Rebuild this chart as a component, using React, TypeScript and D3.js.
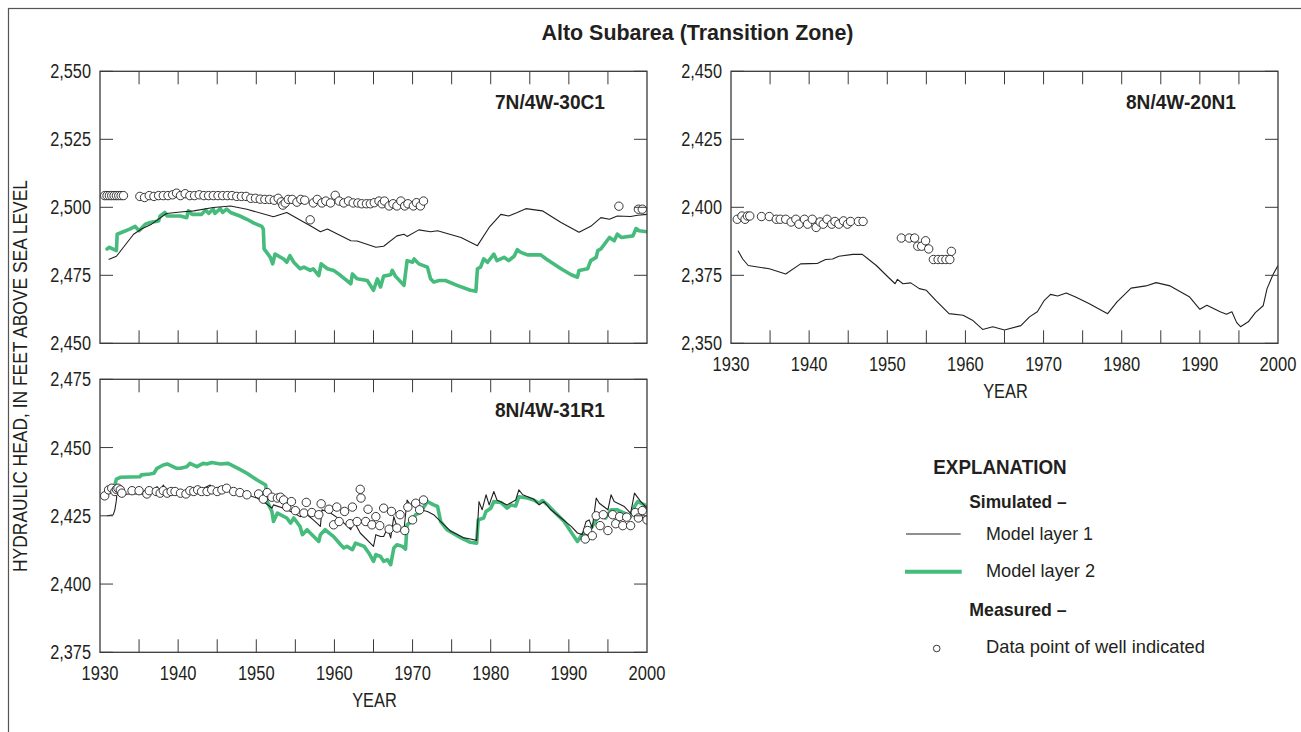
import React from "react";
import * as d3 from "d3";

// ---------- DATA ----------
const yearTicks = [1930, 1940, 1950, 1960, 1970, 1980, 1990, 2000];
const yTicksTL = [2450, 2475, 2500, 2525, 2550];
const yTicksTR = [2350, 2375, 2400, 2425, 2450];
const yTicksBL = [2375, 2400, 2425, 2450, 2475];

// 7N/4W-30C1
const w30c1Layer1: [number, number][] = [
  [1931.1, 2480.8], [1932.1, 2482.0], [1933.0, 2485.3], [1934.3, 2490.1], [1935.3, 2492.0], [1936.6, 2493.8],
  [1938.5, 2497.7], [1940.3, 2498.3], [1942.0, 2498.7], [1944.5, 2499.9], [1946.7, 2500.5], [1948.8, 2499.3],
  [1952.2, 2496.5], [1953.9, 2498.1], [1957.3, 2492.6], [1958.2, 2491.0], [1959.1, 2492.0], [1962.1, 2487.7],
  [1962.9, 2487.6], [1965.3, 2485.3], [1966.3, 2485.7], [1968.0, 2489.5], [1968.9, 2490.1], [1969.3, 2489.3],
  [1970.8, 2491.7], [1972.3, 2491.0], [1973.2, 2491.4], [1976.2, 2488.9], [1978.3, 2485.9], [1979.8, 2492.6],
  [1981.3, 2497.4], [1982.3, 2496.8], [1983.4, 2498.1], [1984.5, 2499.5], [1986.6, 2498.7], [1989.0, 2494.4],
  [1991.3, 2490.8], [1992.8, 2493.0], [1994.1, 2496.2], [1995.2, 2495.6], [1996.2, 2496.8], [1997.9, 2496.6],
  [1998.8, 2497.1], [2000.0, 2497.4],
];
const w30c1Layer2: [number, number][] = [
  [1930.9, 2484.7], [1931.2, 2485.3], [1932.1, 2484.1], [1932.2, 2490.1], [1933.8, 2492.0], [1934.5, 2493.0],
  [1935.0, 2491.4], [1935.8, 2493.8], [1936.4, 2494.4], [1937.5, 2495.0], [1937.7, 2496.8], [1938.3, 2498.1],
  [1938.6, 2496.8], [1940.3, 2496.8], [1941.1, 2496.2], [1941.3, 2498.7], [1941.8, 2497.4], [1943.0, 2497.4],
  [1943.5, 2499.0], [1943.9, 2497.8], [1944.5, 2499.3], [1944.7, 2497.8], [1945.4, 2499.5], [1945.7, 2498.1],
  [1946.2, 2499.3], [1946.7, 2498.1], [1947.9, 2496.8], [1948.8, 2495.6], [1949.7, 2494.2], [1950.7, 2493.0],
  [1950.9, 2492.0], [1951.0, 2484.7], [1951.8, 2481.6], [1952.1, 2479.2], [1952.4, 2482.8], [1953.5, 2481.0],
  [1953.9, 2479.8], [1954.3, 2482.2], [1954.8, 2479.8], [1955.6, 2477.4], [1956.1, 2478.0], [1956.9, 2476.8],
  [1957.3, 2477.4], [1958.0, 2474.9], [1958.3, 2479.2], [1959.1, 2477.4], [1959.9, 2476.8], [1960.8, 2474.9],
  [1962.1, 2471.9], [1962.3, 2475.5], [1962.9, 2473.7], [1964.2, 2473.1], [1965.0, 2469.5], [1965.5, 2473.7],
  [1965.9, 2470.7], [1966.3, 2474.7], [1967.2, 2475.2], [1967.4, 2476.8], [1967.8, 2474.7], [1968.9, 2471.3],
  [1969.3, 2480.4], [1970.0, 2479.8], [1970.2, 2481.0], [1970.8, 2479.2], [1971.9, 2478.0], [1972.3, 2473.7],
  [1972.7, 2472.5], [1973.4, 2473.1], [1974.2, 2473.1], [1975.7, 2471.3], [1977.4, 2469.5], [1978.1, 2469.1],
  [1978.3, 2477.4], [1978.7, 2478.0], [1979.1, 2481.0], [1979.6, 2479.8], [1980.4, 2482.8], [1980.8, 2480.4],
  [1981.7, 2481.6], [1982.3, 2480.4], [1983.0, 2482.0], [1983.4, 2484.4], [1983.8, 2483.5], [1984.7, 2482.5],
  [1986.4, 2482.5], [1987.1, 2481.0], [1989.0, 2477.4], [1990.3, 2475.2], [1991.1, 2474.3], [1991.3, 2476.8],
  [1992.4, 2477.4], [1992.8, 2480.4], [1993.5, 2481.6], [1993.7, 2484.1], [1994.1, 2484.7], [1995.2, 2488.9],
  [1995.8, 2487.7], [1996.2, 2490.1], [1996.7, 2488.9], [1998.2, 2489.5], [1998.6, 2492.2], [1999.0, 2491.4],
  [2000.0, 2491.0],
];
const w30c1Measured: [number, number][] = [
  [1930.6, 2504.3], [1930.9, 2504.3], [1931.2, 2504.3], [1931.5, 2504.3], [1931.8, 2504.3], [1932.1, 2504.3],
  [1932.4, 2504.3], [1932.7, 2504.3], [1933.0, 2504.3],
  [1935.1, 2504.0], [1935.7, 2503.6], [1936.3, 2504.3], [1936.9, 2504.0], [1937.5, 2504.3], [1938.1, 2504.3],
  [1938.7, 2504.3], [1939.3, 2504.6], [1939.8, 2505.2], [1940.3, 2504.3], [1940.9, 2505.0], [1941.5, 2504.3],
  [1942.1, 2504.3], [1942.7, 2504.6], [1943.3, 2504.3], [1943.9, 2504.3], [1944.5, 2504.3], [1945.1, 2504.3],
  [1945.7, 2504.3], [1946.3, 2504.3], [1946.9, 2504.3], [1947.5, 2504.0], [1948.1, 2504.0], [1948.7, 2504.0],
  [1949.3, 2503.3], [1949.9, 2503.3], [1950.5, 2503.0], [1951.1, 2502.9], [1951.7, 2502.9], [1952.3, 2502.6],
  [1952.8, 2503.3], [1953.2, 2502.0], [1953.4, 2500.8], [1953.7, 2501.6], [1954.1, 2502.9], [1954.6, 2502.9],
  [1955.2, 2501.9], [1955.7, 2502.9], [1956.2, 2502.6], [1956.9, 2495.4], [1957.3, 2501.6], [1957.8, 2502.9],
  [1958.4, 2501.6], [1958.9, 2502.3], [1959.5, 2501.6], [1960.1, 2504.4], [1960.6, 2502.3], [1961.2, 2501.6],
  [1961.8, 2502.3], [1962.4, 2501.6], [1963.0, 2501.6], [1963.5, 2501.3], [1964.1, 2501.3], [1964.6, 2501.3],
  [1965.1, 2501.7], [1965.7, 2502.3], [1966.1, 2501.3], [1966.4, 2502.3], [1967.0, 2500.5], [1967.5, 2501.3],
  [1968.0, 2500.5], [1968.5, 2502.3], [1969.0, 2500.5], [1969.4, 2501.3], [1970.1, 2500.5], [1970.5, 2501.7],
  [1971.0, 2500.5], [1971.4, 2502.3],
  [1996.4, 2500.4], [1998.9, 2499.3], [1999.4, 2499.3],
];

// 8N/4W-20N1
const w20n1Layer1: [number, number][] = [
  [1930.9, 2384.0], [1931.5, 2381.0], [1932.2, 2378.6], [1934.9, 2377.4], [1937.0, 2375.5], [1938.9, 2379.2],
  [1941.1, 2379.4], [1942.1, 2380.8], [1943.0, 2381.0], [1943.8, 2382.0], [1945.6, 2382.7], [1946.8, 2382.7],
  [1948.6, 2378.6], [1949.8, 2375.2], [1951.0, 2371.9], [1951.3, 2373.5], [1952.0, 2371.9], [1953.0, 2372.2],
  [1954.1, 2370.1], [1955.0, 2369.5], [1956.2, 2365.8], [1957.9, 2360.9], [1959.7, 2360.3], [1960.9, 2358.5],
  [1962.2, 2355.1], [1963.5, 2356.1], [1965.0, 2354.9], [1967.1, 2356.5], [1968.2, 2359.7], [1969.2, 2361.6],
  [1970.1, 2365.8], [1970.9, 2368.0], [1971.8, 2367.4], [1972.9, 2368.5], [1974.1, 2367.0], [1975.8, 2364.6],
  [1978.2, 2360.9], [1979.4, 2365.2], [1981.2, 2370.3], [1983.1, 2371.1], [1984.4, 2372.3], [1986.2, 2371.1],
  [1988.7, 2367.0], [1990.0, 2362.5], [1990.9, 2364.0], [1992.6, 2361.6], [1993.4, 2360.7], [1994.1, 2361.6],
  [1994.7, 2357.7], [1995.2, 2356.1], [1996.2, 2357.9], [1997.1, 2361.3], [1998.1, 2363.8], [1998.6, 2370.1],
  [1999.4, 2375.5], [2000.0, 2378.6],
];
const w20n1Measured: [number, number][] = [
  [1930.8, 2395.6], [1931.4, 2396.8], [1931.8, 2395.6], [1932.1, 2396.8], [1932.4, 2396.8], [1933.9, 2396.6],
  [1934.9, 2396.6], [1935.8, 2395.6], [1936.3, 2395.6], [1937.0, 2395.6], [1937.7, 2394.6], [1938.3, 2395.6],
  [1938.7, 2393.8], [1939.4, 2395.6], [1939.8, 2393.8], [1940.4, 2395.6], [1940.9, 2392.6], [1941.4, 2394.6],
  [1941.8, 2393.8], [1942.3, 2395.6], [1942.9, 2393.8], [1943.3, 2394.8], [1943.8, 2393.8], [1944.4, 2395.0],
  [1944.9, 2393.8], [1945.3, 2394.8], [1946.3, 2394.8], [1946.9, 2394.8],
  [1951.8, 2388.7], [1952.8, 2388.7], [1953.5, 2388.7], [1953.9, 2385.7], [1954.4, 2385.7], [1954.9, 2387.7],
  [1955.3, 2384.7], [1955.9, 2380.8], [1956.5, 2380.8], [1957.0, 2380.8], [1957.5, 2380.8], [1958.0, 2380.8],
  [1958.2, 2383.8],
];

// 8N/4W-31R1
const w31r1Layer1: [number, number][] = [
  [1930.9, 2425.0], [1931.7, 2425.4], [1931.9, 2427.2], [1932.1, 2430.8], [1932.2, 2435.1], [1932.6, 2432.7],
  [1933.8, 2433.0], [1936.0, 2433.0], [1937.3, 2435.7], [1937.7, 2433.9], [1938.1, 2436.3], [1938.6, 2433.9],
  [1940.3, 2433.3], [1941.5, 2435.1], [1942.4, 2433.9], [1944.1, 2436.3], [1944.5, 2434.5], [1945.4, 2435.7],
  [1946.2, 2434.5], [1947.5, 2433.9], [1948.8, 2432.7], [1950.1, 2431.5], [1951.2, 2429.6], [1952.0, 2427.8],
  [1952.2, 2429.0], [1953.5, 2427.8], [1954.8, 2426.0], [1955.6, 2424.7], [1956.5, 2425.4], [1957.3, 2423.5],
  [1958.2, 2421.1], [1958.4, 2427.2], [1959.5, 2426.0], [1960.8, 2423.5], [1962.1, 2419.9], [1962.4, 2423.5],
  [1963.3, 2418.7], [1965.0, 2413.8], [1965.3, 2418.1], [1965.9, 2417.4], [1966.3, 2417.4], [1966.8, 2420.5],
  [1967.2, 2416.9], [1967.6, 2424.7], [1968.0, 2421.1], [1968.9, 2419.9], [1969.3, 2430.8], [1969.7, 2429.0],
  [1970.2, 2430.2], [1971.0, 2427.2], [1971.9, 2426.6], [1972.7, 2425.4], [1973.6, 2422.9], [1974.9, 2419.3],
  [1976.6, 2416.9], [1977.4, 2416.5], [1978.2, 2416.0], [1978.5, 2430.2], [1978.9, 2427.2], [1979.4, 2432.7],
  [1979.8, 2429.0], [1980.4, 2433.9], [1980.8, 2430.8], [1982.1, 2429.0], [1983.2, 2430.8], [1983.6, 2434.5],
  [1984.1, 2432.7], [1985.5, 2431.1], [1986.2, 2429.0], [1986.8, 2430.2], [1987.7, 2427.2], [1989.0, 2424.2],
  [1990.3, 2421.1], [1991.1, 2418.7], [1991.7, 2418.1], [1992.2, 2422.9], [1992.6, 2423.5], [1993.0, 2420.5],
  [1993.5, 2431.5], [1993.9, 2429.6], [1995.0, 2427.2], [1995.4, 2432.7], [1995.8, 2430.2], [1997.1, 2428.4],
  [1997.9, 2425.9], [1998.4, 2433.3], [1999.2, 2430.2], [2000.0, 2427.8],
];
const w31r1Layer2: [number, number][] = [
  [1931.9, 2436.3], [1932.1, 2438.4], [1932.6, 2439.1], [1935.1, 2439.3], [1935.3, 2440.0], [1936.4, 2440.3],
  [1936.9, 2440.6], [1937.3, 2442.4], [1938.1, 2443.6], [1938.6, 2444.0], [1939.8, 2442.4], [1940.3, 2442.4],
  [1941.1, 2443.0], [1941.5, 2444.2], [1942.4, 2443.0], [1943.2, 2444.2], [1943.7, 2444.0], [1944.3, 2444.5],
  [1945.4, 2444.0], [1946.4, 2444.2], [1947.9, 2442.0], [1948.8, 2440.6], [1950.1, 2438.1], [1951.2, 2436.3],
  [1951.4, 2430.2], [1952.0, 2426.6], [1952.2, 2422.9], [1952.7, 2426.0], [1953.9, 2424.2], [1954.4, 2422.3],
  [1954.8, 2424.2], [1955.6, 2421.1], [1955.9, 2418.1], [1956.5, 2419.9], [1956.9, 2418.7], [1958.0, 2415.6],
  [1958.2, 2418.1], [1958.8, 2419.9], [1959.9, 2417.4], [1960.8, 2414.4], [1961.2, 2413.2], [1961.6, 2413.8],
  [1962.3, 2412.6], [1962.7, 2415.0], [1963.8, 2413.8], [1964.4, 2411.4], [1965.0, 2408.3], [1965.3, 2410.8],
  [1965.9, 2410.1], [1966.3, 2408.3], [1966.8, 2408.9], [1967.2, 2407.1], [1967.6, 2413.2], [1968.0, 2414.4],
  [1968.7, 2413.8], [1969.1, 2412.8], [1969.3, 2421.7], [1969.9, 2422.9], [1970.4, 2425.4], [1971.0, 2426.2],
  [1971.9, 2430.2], [1972.7, 2429.0], [1973.2, 2428.4], [1973.6, 2422.9], [1974.4, 2419.9], [1976.2, 2416.9],
  [1977.4, 2415.3], [1978.2, 2415.0], [1978.4, 2423.5], [1979.1, 2424.2], [1979.4, 2426.6], [1980.0, 2427.8],
  [1980.4, 2430.2], [1981.3, 2429.9], [1982.1, 2427.8], [1982.6, 2429.0], [1983.2, 2428.6], [1983.6, 2432.0],
  [1984.7, 2431.5], [1985.5, 2430.8], [1986.2, 2429.6], [1986.6, 2430.6], [1987.3, 2429.0], [1988.1, 2426.6],
  [1989.4, 2422.9], [1990.5, 2418.1], [1991.1, 2415.6], [1991.7, 2418.1], [1992.4, 2419.3], [1993.0, 2421.1],
  [1993.5, 2423.5], [1994.1, 2425.4], [1994.7, 2424.2], [1995.4, 2427.2], [1996.2, 2427.2], [1997.1, 2426.0],
  [1997.9, 2424.7], [1998.4, 2428.4], [1998.8, 2430.2], [1999.7, 2429.0], [2000.0, 2427.4],
];
const w31r1Measured: [number, number][] = [
  [1930.6, 2432.3], [1931.1, 2434.5], [1931.5, 2435.1], [1931.9, 2433.9], [1932.1, 2434.7], [1932.3, 2435.1],
  [1932.6, 2434.5], [1932.8, 2433.3], [1934.1, 2434.2], [1935.0, 2434.2], [1936.0, 2433.0], [1936.3, 2434.2],
  [1937.2, 2433.9], [1937.7, 2433.3], [1938.1, 2434.2], [1938.6, 2433.3], [1939.1, 2433.9], [1939.6, 2433.9],
  [1940.3, 2433.3], [1941.0, 2433.0], [1941.5, 2434.2], [1942.0, 2433.9], [1942.5, 2434.5], [1943.0, 2433.9],
  [1943.7, 2433.9], [1944.3, 2434.5], [1945.0, 2433.9], [1945.6, 2434.5], [1946.2, 2435.1], [1947.1, 2433.9],
  [1947.9, 2433.5], [1948.8, 2432.7], [1950.3, 2433.0], [1950.9, 2431.1], [1951.4, 2433.5], [1952.0, 2431.8],
  [1952.7, 2431.5], [1953.1, 2431.8], [1953.5, 2430.8], [1953.9, 2428.2], [1954.5, 2430.2], [1955.0, 2426.9],
  [1956.1, 2426.0], [1956.4, 2429.9], [1957.1, 2426.2], [1958.0, 2425.4], [1958.3, 2429.4], [1959.3, 2427.4],
  [1959.9, 2421.7], [1960.3, 2428.2], [1960.6, 2422.9], [1961.3, 2426.6], [1962.0, 2422.1], [1962.3, 2428.2],
  [1962.9, 2422.9], [1963.3, 2434.7], [1963.4, 2431.5], [1964.0, 2422.9], [1964.3, 2427.4], [1964.8, 2421.7],
  [1965.3, 2424.7], [1965.8, 2421.4], [1966.3, 2427.8], [1967.0, 2420.1], [1967.3, 2426.6], [1968.0, 2420.5],
  [1968.4, 2425.4], [1969.0, 2419.6], [1969.4, 2428.2], [1970.0, 2423.5], [1970.4, 2429.6], [1970.9, 2427.2],
  [1971.4, 2430.8],
  [1992.1, 2416.5], [1992.4, 2419.6], [1993.0, 2417.7], [1993.5, 2425.0], [1994.0, 2421.4], [1994.4, 2425.4],
  [1995.0, 2419.6], [1995.6, 2425.4], [1996.0, 2422.1], [1996.5, 2424.7], [1996.9, 2421.4], [1997.4, 2424.5],
  [1997.9, 2421.4], [1998.5, 2426.2], [1998.9, 2424.2], [1999.4, 2426.9], [2000.0, 2423.5],
];

// ---------- STYLE ----------
const FONT = "'Liberation Sans Narrow', 'Arial Narrow', 'Liberation Sans', Arial, sans-serif";
const INK = "#231f20";
const AXIS = "#3a3a3a";
const GREEN = "#45bb7c";
const TICK = 13;

type Pt = [number, number];

interface PanelProps {
  id: string;
  x: d3.ScaleLinear<number, number>;
  y: d3.ScaleLinear<number, number>;
  yTicks: number[];
  label: string;
  l1?: Pt[];
  l2?: Pt[];
  meas?: Pt[];
  showXLabels: boolean;
}

const fmt = d3.format(",");
// approximate condensed width of a numeric label
const numWidth = (s: string) => s.split("").reduce((w, c) => w + (c === "," ? 4 : 9.2), 0);

function Panel({ id, x, y, yTicks, label, l1, l2, meas, showXLabels }: PanelProps) {
  const [x0, x1] = x.range();
  const [yb, yt] = y.range();
  const minor = d3.range(1935, 2000, 5);
  const line = d3
    .line<Pt>()
    .x((d) => x(d[0]))
    .y((d) => y(d[1]));
  return (
    <g>
      <defs>
        <clipPath id={id}>
          <rect x={x0} y={yt} width={x1 - x0} height={yb - yt} />
        </clipPath>
      </defs>
      <g clipPath={`url(#${id})`}>
        {l2 && (
          <path d={line(l2) || ""} fill="none" stroke={GREEN} strokeWidth={3.6} strokeLinejoin="round" strokeLinecap="round" />
        )}
        {l1 && <path d={line(l1) || ""} fill="none" stroke={INK} strokeWidth={1.1} strokeLinejoin="round" />}
        {meas &&
          meas.map((d, i) => (
            <circle key={i} cx={x(d[0])} cy={y(d[1])} r={4.2} fill="#fff" stroke={INK} strokeWidth={0.9} />
          ))}
      </g>
      {minor.map((t) => (
        <g key={"xt" + t}>
          <line x1={x(t)} x2={x(t)} y1={yt} y2={yt + TICK} stroke={AXIS} strokeWidth={1} />
          <line x1={x(t)} x2={x(t)} y1={yb} y2={yb - TICK} stroke={AXIS} strokeWidth={1} />
        </g>
      ))}
      {yTicks.map((t) => (
        <g key={"yt" + t}>
          <line x1={x0} x2={x0 + TICK} y1={y(t)} y2={y(t)} stroke={AXIS} strokeWidth={1} />
          <line x1={x1} x2={x1 - TICK} y1={y(t)} y2={y(t)} stroke={AXIS} strokeWidth={1} />
          <text x={x0 - 9} y={y(t) + 7} textAnchor="end" fontFamily={FONT} fontSize={19.5} fill={INK}
            textLength={numWidth(fmt(t))} lengthAdjust="spacingAndGlyphs">
            {fmt(t)}
          </text>
        </g>
      ))}
      <rect x={x0} y={yt} width={x1 - x0} height={yb - yt} fill="none" stroke={AXIS} strokeWidth={1.3} />
      {showXLabels &&
        yearTicks.map((t) => (
          <text key={"xl" + t} x={x(t)} y={yb + 28} textAnchor="middle" fontFamily={FONT} fontSize={19.5} fill={INK}
            textLength={numWidth(String(t))} lengthAdjust="spacingAndGlyphs">
            {t}
          </text>
        ))}
      {showXLabels && (
        <text x={(x0 + x1) / 2 + 1} y={yb + 55} textAnchor="middle" fontFamily={FONT} fontSize={19.5} fill={INK}
          textLength={44.6} lengthAdjust="spacingAndGlyphs">
          YEAR
        </text>
      )}
      <text x={x1 - 42} y={yt + 38} textAnchor="end" fontFamily={FONT} fontSize={20} fontWeight="bold" fill={INK}
        textLength={110} lengthAdjust="spacingAndGlyphs">
        {label}
      </text>
    </g>
  );
}

export default function App() {
  const W = 1301;
  const H = 732;
  const xL = d3.scaleLinear().domain([1930, 2000]).range([100, 647]);
  const xR = d3.scaleLinear().domain([1930, 2000]).range([731, 1278]);
  const yTL = d3.scaleLinear().domain([2450, 2550]).range([343.3, 71.3]);
  const yTR = d3.scaleLinear().domain([2350, 2450]).range([343.3, 71.3]);
  const yBL = d3.scaleLinear().domain([2375, 2475]).range([652.3, 379.3]);

  return (
    <svg width={W} height={H} style={{ position: "absolute", left: 0, top: 0, background: "#fff" }}>
      <rect x={0} y={0} width={W} height={H} fill="#fff" />
      <rect x={8.5} y={8.5} width={1320} height={800} fill="none" stroke="#555" strokeWidth={1.2} />
      <text x={697.5} y={40} textAnchor="middle" fontFamily={FONT} fontSize={21.5} fontWeight="bold" fill={INK}
        textLength={312} lengthAdjust="spacingAndGlyphs">
        Alto Subarea (Transition Zone)
      </text>
      <text transform="translate(27,376) rotate(-90)" textAnchor="middle" fontFamily={FONT} fontSize={19.5} fill={INK}
        textLength={392} lengthAdjust="spacingAndGlyphs">
        HYDRAULIC HEAD, IN FEET ABOVE SEA LEVEL
      </text>

      <Panel id="c1" x={xL} y={yTL} yTicks={yTicksTL} label="7N/4W-30C1" l1={w30c1Layer1} l2={w30c1Layer2}
        meas={w30c1Measured} showXLabels={false} />
      <Panel id="c2" x={xR} y={yTR} yTicks={yTicksTR} label="8N/4W-20N1" l1={w20n1Layer1}
        meas={w20n1Measured} showXLabels={true} />
      <Panel id="c3" x={xL} y={yBL} yTicks={yTicksBL} label="8N/4W-31R1" l1={w31r1Layer1} l2={w31r1Layer2}
        meas={w31r1Measured} showXLabels={true} />

      <g fontFamily={FONT} fill={INK}>
        <text x={933.3} y={474} fontSize={21} fontWeight="bold" textLength={133.4} lengthAdjust="spacingAndGlyphs">EXPLANATION</text>
        <text x={969.3} y={508.3} fontSize={19} fontWeight="bold" textLength={97.4} lengthAdjust="spacingAndGlyphs">Simulated –</text>
        <line x1={906} x2={960.7} y1={534} y2={534} stroke={INK} strokeWidth={1.1} />
        <text x={986} y={540} fontSize={18.5} textLength={107} lengthAdjust="spacingAndGlyphs">Model layer 1</text>
        <line x1={905} x2={961.7} y1={571.7} y2={571.7} stroke={GREEN} strokeWidth={4} />
        <text x={986} y={577.3} fontSize={18.5} textLength={109} lengthAdjust="spacingAndGlyphs">Model layer 2</text>
        <text x={969.3} y={616} fontSize={19} fontWeight="bold" textLength={97.4} lengthAdjust="spacingAndGlyphs">Measured –</text>
        <circle cx={936.7} cy={648.5} r={3.3} fill="#fff" stroke={INK} strokeWidth={0.9} />
        <text x={986} y={653.3} fontSize={18.5} textLength={219} lengthAdjust="spacingAndGlyphs">Data point of well indicated</text>
      </g>
    </svg>
  );
}
